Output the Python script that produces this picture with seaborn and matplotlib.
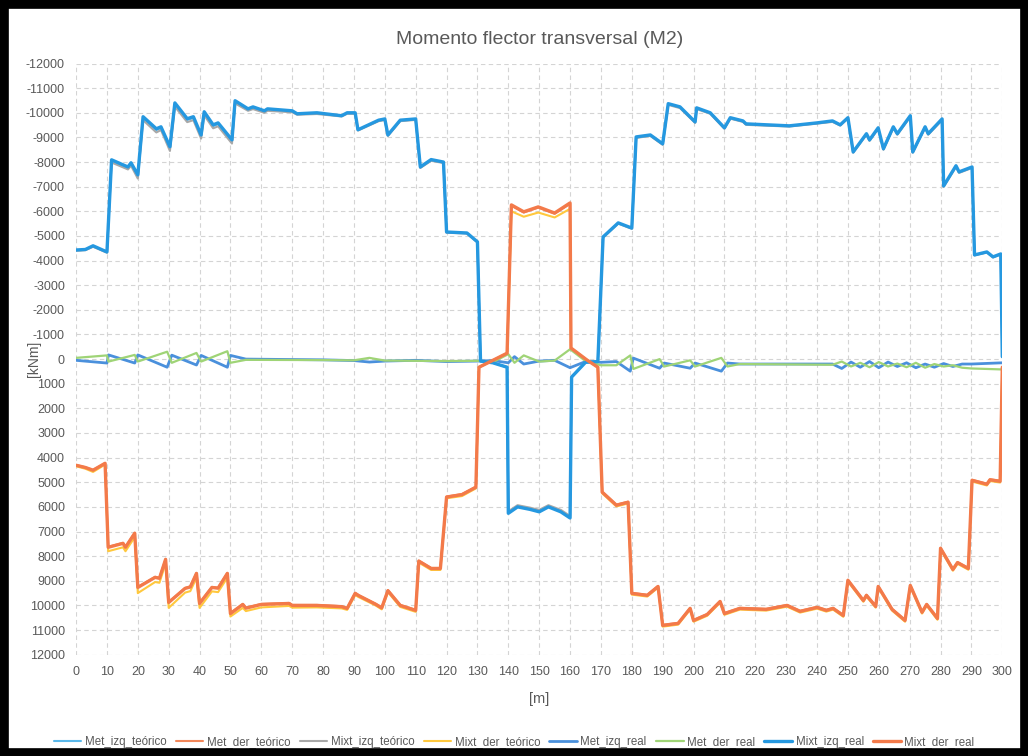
import numpy as np
import pandas as pd
import seaborn as sns
import matplotlib.pyplot as plt
from matplotlib.patches import Rectangle

# x positions [m]
x_izq = [0, 3, 5.5, 10, 11.5, 16.8, 17.8, 20, 21.7, 26, 27.5, 30.4, 32, 36, 38, 40.5, 41.5, 44.4, 46, 50.5,
         51.5, 55.7, 57.3, 61, 62, 70, 71.6, 78, 86, 87.8, 90.4, 91.3, 98, 100, 101, 105, 110, 111.5, 115, 119,
         120, 126.6, 130, 131, 135, 139.6, 140, 143, 147, 150, 153, 157, 160, 160.5, 165, 169, 170.7, 175.6,
         180, 181.4, 186, 190, 191.8, 195.6, 200.5, 201, 205.4, 210, 211.9, 216, 217, 231, 240, 245, 247.5,
         250, 251.7, 256, 257, 259.8, 261.5, 264.7, 266, 270.2, 271, 275, 276, 280.5, 281, 285, 286, 290.2,
         291, 295, 297, 299.5, 300]
x_der = [0, 3, 5.5, 9.4, 10.4, 15.2, 16, 19, 20, 25.6, 27, 29, 30, 35.3, 37, 39, 40, 44, 46, 49, 50, 54, 55,
         60, 69, 70, 78, 86, 87.8, 90.4, 91.5, 97, 99, 101, 105, 110, 111, 115, 118, 120, 125, 129.5, 130.5,
         135, 139.6, 141, 145, 149.7, 155, 160, 160.3, 165.5, 169, 170.4, 175, 178.8, 180, 185, 188.5, 190,
         195, 198.9, 200, 204.4, 208.6, 210, 215, 223.5, 230.3, 234.5, 240, 243, 245.2, 248.5, 250, 255, 256,
         259, 259.8, 264.3, 268.5, 270.2, 274, 275.5, 279, 280, 284, 285.5, 289, 290.2, 295, 296, 299.3, 300]
x_small = [0, 10, 10.5, 19, 20, 29.5, 31, 39, 40.5, 49, 50, 55, 80, 90, 95, 100, 110, 120, 130, 135, 140, 142,
           145, 150, 155, 160, 165, 170, 175, 179.5, 180.5, 189, 190.5, 198.9, 200.5, 209, 211, 215, 245, 248,
           251, 254, 257, 260, 263, 266, 269, 272, 275, 278, 281, 284, 287, 290, 300]

# M2 [kNm]
met_izq_teo = [-4410, -4440, -4580, -4340, -8050, -7760, -7920, -7430, -9790, -9300, -9380, -8570, -10350, -9710,
               -9790, -9050, -9990, -9460, -9540, -8850, -10450, -10130, -10200, -10050, -10130, -10060, -9940,
               -9980, -9870, -9980, -9980, -9300, -9680, -9730, -9080, -9680, -9730, -7780, -8080, -7980, -5150,
               -5110, -4750, 80, 150, 330, 6230, 5970, 6070, 6170, 5970, 6170, 6420, 730, 130, 100, -4950, -5520,
               -5310, -9000, -9080, -8720, -10350, -10220, -9610, -10180, -9980, -9370, -9780, -9650, -9530,
               -9460, -9580, -9650, -9500, -9790, -8400, -9130, -8880, -9370, -8520, -9410, -9130, -9860, -8400,
               -9410, -9130, -9730, -7020, -7830, -7580, -7780, -4220, -4340, -4140, -4260, -100]
met_der_teo = [4300, 4390, 4500, 4220, 7620, 7460, 7620, 7050, 9250, 8840, 8880, 8110, 9860, 9290, 9230, 8680,
               9900, 9250, 9280, 8680, 10310, 9940, 10090, 9940, 9900, 9980, 9980, 10030, 10100, 9490, 9580, 9930,
               10080, 9380, 9980, 10180, 8180, 8480, 8480, 5580, 5480, 5180, 330, 50, -240, -6220, -5950, -6150,
               -5900, -6300, -450, 40, 330, 5380, 5910, 5790, 9490, 9570, 9210, 10790, 10710, 10100, 10590, 10350,
               9820, 10310, 10100, 10140, 9980, 10220, 10060, 10180, 10100, 10390, 8960, 9780, 9570, 10020, 9210,
               10140, 10590, 9170, 10260, 9940, 10510, 7660, 8520, 8240, 8480, 4900, 5060, 4880, 4940, 330]
mixt_izq_teo = [-4400, -4420, -4560, -4320, -7980, -7700, -7850, -7330, -9700, -9200, -9300, -8450, -10250, -9620,
                -9700, -8950, -9900, -9370, -9450, -8750, -10380, -10080, -10150, -10000, -10080, -10020, -9920,
                -9950, -9850, -9960, -9960, -9280, -9660, -9700, -9060, -9660, -9710, -7760, -8050, -7960, -5130,
                -5100, -4740, 80, 150, 320, 6180, 5930, 6030, 6120, 5930, 6120, 6370, 720, 130, 100, -4940, -5500,
                -5290, -8980, -9060, -8700, -10320, -10190, -9590, -10150, -9960, -9350, -9760, -9630, -9510,
                -9440, -9560, -9630, -9480, -9780, -8380, -9110, -8860, -9350, -8500, -9390, -9110, -9830, -8380,
                -9390, -9110, -9700, -7000, -7800, -7560, -7760, -4210, -4330, -4130, -4250, -100]
mixt_der_teo = [4350, 4450, 4580, 4280, 7800, 7640, 7800, 7230, 9500, 9050, 9080, 8300, 10100, 9480, 9420, 8880,
                10100, 9430, 9460, 8870, 10450, 10100, 10230, 10080, 10020, 10090, 10080, 10120, 10180, 9580, 9660,
                10000, 10160, 9460, 10060, 10260, 8260, 8560, 8560, 5650, 5560, 5250, 330, 50, -220, -6000, -5780,
                -5950, -5750, -6100, -430, 40, 330, 5450, 5980, 5860, 9560, 9640, 9280, 10860, 10780, 10170, 10660,
                10420, 9890, 10380, 10170, 10210, 10050, 10290, 10130, 10250, 10170, 10460, 9030, 9850, 9640, 10090,
                9280, 10210, 10660, 9240, 10330, 10010, 10580, 7730, 8590, 8310, 8550, 4970, 5130, 4950, 5010, 330]
met_izq_real = [50, 160, -170, 160, -170, 330, -160, 240, -150, 330, -150, 0, 30, 60, 120, 80, 50, 100, 80, 60,
                150, -100, 200, 80, 50, 350, 100, 130, 100, 490, -40, 370, 160, 370, 160, 490, 160, 200, 200, 380,
                120, 330, 100, 350, 120, 300, 150, 350, 200, 330, 180, 300, 200, 200, 150]
met_der_real = [-50, -150, 100, -170, 100, -300, 150, -250, 100, -320, 150, 30, 40, 50, -50, 60, 70, 80, 70, 120,
                -200, 150, -150, 100, 60, -400, 80, 250, 250, -150, 400, 0, 300, 50, 300, -50, 300, 200, 230, 100,
                300, 150, 330, 120, 300, 180, 330, 150, 350, 200, 300, 250, 350, 380, 420]
mixt_izq_real = [-4430, -4450, -4600, -4350, -8090, -7800, -7970, -7480, -9840, -9350, -9430, -8620, -10400, -9760,
                 -9840, -9100, -10040, -9510, -9590, -8900, -10490, -10160, -10240, -10080, -10160, -10080, -9960,
                 -10000, -9880, -10000, -10000, -9310, -9700, -9750, -9100, -9700, -9750, -7800, -8100, -8000,
                 -5160, -5120, -4760, 80, 150, 330, 6260, 6000, 6100, 6200, 6000, 6200, 6450, 730, 130, 100, -4960,
                 -5530, -5320, -9020, -9100, -8740, -10370, -10240, -9630, -10200, -10000, -9390, -9800, -9670,
                 -9550, -9470, -9590, -9670, -9510, -9800, -8410, -9150, -8900, -9390, -8540, -9430, -9150, -9880,
                 -8410, -9430, -9150, -9750, -7030, -7850, -7600, -7800, -4230, -4350, -4150, -4270, -100]
mixt_der_real = [4310, 4400, 4510, 4230, 7640, 7480, 7640, 7070, 9270, 8860, 8900, 8130, 9880, 9310, 9250, 8700,
                 9920, 9270, 9300, 8700, 10330, 9960, 10110, 9960, 9920, 10000, 10000, 10050, 10120, 9510, 9600,
                 9950, 10100, 9400, 10000, 10200, 8200, 8500, 8500, 5600, 5500, 5200, 330, 50, -240, -6260, -5980,
                 -6180, -5930, -6340, -450, 40, 330, 5400, 5930, 5810, 9510, 9590, 9230, 10810, 10730, 10120, 10610,
                 10370, 9840, 10330, 10120, 10160, 10000, 10240, 10080, 10200, 10120, 10410, 8980, 9800, 9590, 10040,
                 9230, 10160, 10610, 9190, 10280, 9960, 10530, 7680, 8540, 8260, 8500, 4920, 5080, 4900, 4960, 330]

series = [
    ('Met_izq_teórico', x_izq, met_izq_teo, '#5ab8ea', 1.5),
    ('Met_der_teórico', x_der, met_der_teo, '#f2875a', 1.5),
    ('Mixt_izq_teórico', x_izq, mixt_izq_teo, '#a8a8a8', 1.5),
    ('Mixt_der_teórico', x_der, mixt_der_teo, '#ffc83d', 1.5),
    ('Met_izq_real', x_small, met_izq_real, '#4a90dc', 2.0),
    ('Met_der_real', x_small, met_der_real, '#9fd476', 1.6),
    ('Mixt_izq_real', x_izq, mixt_izq_real, '#2598e0', 2.4),
    ('Mixt_der_real', x_der, mixt_der_real, '#f37a4a', 2.4),
]

sns.set_style('white')
plt.rcParams['font.family'] = ['Liberation Sans Narrow', 'Liberation Sans', 'DejaVu Sans']
plt.rcParams['axes.unicode_minus'] = False

fig = plt.figure(figsize=(10.28, 7.56), dpi=100)
ax = fig.add_axes([0.074, 0.134, 0.901, 0.782])

for name, xs, ys, col, lw in series:
    sns.lineplot(x=xs, y=ys, ax=ax, color=col, linewidth=lw, label=name,
                 estimator=None, sort=False)

ax.set_xlim(0, 300)
ax.set_ylim(12000, -12000)
ax.set_xticks(np.arange(0, 301, 10))
ax.set_yticks(np.arange(-12000, 12001, 1000))
ax.tick_params(axis='both', labelsize=9, colors='#595959', length=0, pad=8)
ax.grid(True, linestyle=(0, (4, 3)), color='#d4d4d4', linewidth=0.8)
for s in ax.spines.values():
    s.set_visible(False)

ax.set_title('Momento flector transversal (M2)', fontsize=14, color='#595959', pad=14)
ax.set_xlabel('[m]', fontsize=10.5, color='#595959', labelpad=10)
ax.set_ylabel('[kNm]', fontsize=10, color='#595959')
ax.yaxis.set_label_coords(-0.038, 0.5)

ax.legend(loc='center', bbox_to_anchor=(0.5, 0.018), bbox_transform=fig.transFigure,
          ncol=8, frameon=False, fontsize=8.3, handlelength=2.4, columnspacing=0.8, handletextpad=0.3,
          labelcolor='#595959')

# scanned-page black frame
fig.patches.append(Rectangle((0, 0), 1, 1, transform=fig.transFigure, fill=False,
                             edgecolor='black', linewidth=12, zorder=10))

fig.savefig('out.png', dpi=100)
